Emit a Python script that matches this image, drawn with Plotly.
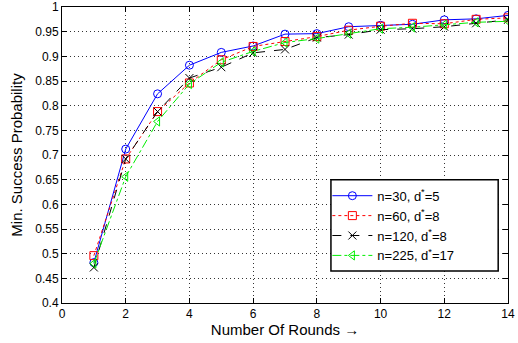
import plotly.graph_objects as go

rounds = list(range(1, 15))
n30_d5 = [0.482, 0.712, 0.824, 0.882, 0.908, 0.921, 0.945, 0.946, 0.960, 0.963, 0.965, 0.974, 0.976, 0.983]
n60_d8 = [0.496, 0.692, 0.788, 0.846, 0.893, 0.920, 0.930, 0.940, 0.953, 0.961, 0.967, 0.966, 0.975, 0.978]
n120_d8 = [0.472, 0.692, 0.788, 0.856, 0.878, 0.907, 0.914, 0.938, 0.944, 0.954, 0.956, 0.960, 0.967, 0.974]
n225_d17 = [0.480, 0.656, 0.768, 0.844, 0.888, 0.910, 0.928, 0.936, 0.946, 0.956, 0.959, 0.964, 0.969, 0.971]

names = ["n=30, d<sup>*</sup>=5", "n=60, d<sup>*</sup>=8", "n=120, d<sup>*</sup>=8", "n=225, d<sup>*</sup>=17"]
x_ticks = list(range(0, 15, 2))
y_ticks = [round(0.4 + 0.05 * i, 2) for i in range(13)]
y_tick_labels = ["0.4", "0.45", "0.5", "0.55", "0.6", "0.65", "0.7", "0.75", "0.8", "0.85", "0.9", "0.95", "1"]

styles = [
    dict(color="#0000ff", dash="solid", symbol="circle-open"),
    dict(color="#ff0000", dash="dot", symbol="square-open"),
    dict(color="#000000", dash="dash", symbol="x-thin-open"),
    dict(color="#00ee00", dash="dashdot", symbol="triangle-left-open"),
]

fig = go.Figure()
for ys, name, st in zip([n30_d5, n60_d8, n120_d8, n225_d17], names, styles):
    fig.add_trace(go.Scatter(
        x=rounds, y=ys, name=name, mode="lines+markers",
        line=dict(color=st["color"], dash=st["dash"], width=1),
        marker=dict(symbol=st["symbol"], size=8, color=st["color"],
                    line=dict(color=st["color"], width=1)),
    ))

axis_common = dict(
    showline=True, linecolor="black", linewidth=1, mirror="ticks",
    ticks="inside", ticklen=5, tickcolor="black",
    showgrid=True, gridcolor="#333333", griddash="1px,3px", gridwidth=1,
    zeroline=False, automargin=False, ticklabeloverflow="allow",
    tickfont=dict(family="Liberation Sans, Arial", size=12, color="black"),
)

# legend frame (MATLAB-style box, wider than the entries)
fig.add_shape(type="rect", xref="paper", yref="paper",
              x0=0.603, x1=0.978, y0=0.108, y1=0.416,
              line=dict(color="black", width=1.5), fillcolor="white", layer="above")

fig.update_layout(
    width=518, height=343,
    margin=dict(l=62, r=10, t=7, b=40, autoexpand=False),
    paper_bgcolor="white", plot_bgcolor="white",
    font=dict(family="Liberation Sans, Arial", color="black"),
    xaxis=dict(range=[0, 14], tickvals=x_ticks,
               title=dict(text="Number Of Rounds \u2192", font=dict(size=15), standoff=2),
               **axis_common),
    yaxis=dict(range=[0.4, 1.0], tickvals=y_ticks, ticktext=y_tick_labels,
               title=dict(text="Min. Success Probability", font=dict(size=15), standoff=8),
               **axis_common),
    legend=dict(x=0.595, y=0.413, xanchor="left", yanchor="top",
                bgcolor="rgba(0,0,0,0)", borderwidth=0,
                font=dict(size=13), tracegroupgap=0, itemwidth=40),
    showlegend=True,
)

fig.write_html("out.html", config={"displayModeBar": False},
               post_script="document.body.style.margin='0';")
